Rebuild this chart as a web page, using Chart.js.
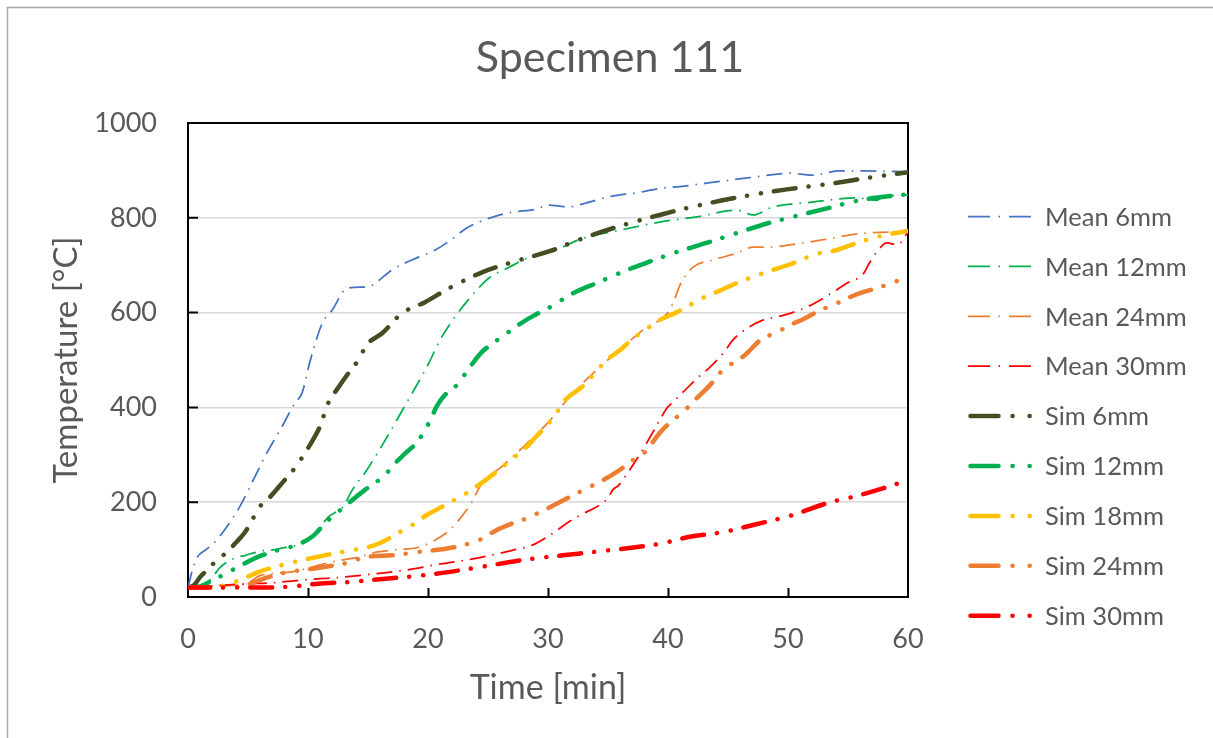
<!DOCTYPE html>
<html><head><meta charset="utf-8">
<script src="https://cdn.jsdelivr.net/npm/chart.js@4.4.0/dist/chart.umd.min.js"></script>
<style>html,body{margin:0;padding:0;background:#fff;overflow:hidden}canvas{display:block}</style>
</head><body>
<canvas id="c" width="1213" height="738"></canvas>
<script>
// ---- data (time in min, temperature in °C) ----
const chartTitle = 'Specimen 111';
const seriesNames = ['Mean 6mm','Mean 12mm','Mean 24mm','Mean 30mm','Sim 6mm','Sim 12mm','Sim 18mm','Sim 24mm','Sim 30mm'];
const xTicks = [0,10,20,30,40,50,60];
const yTicks = [0,200,400,600,800,1000];

const mean6Time = [0,0.4,0.8,1.5,2.2,3,4.3,5.5,6.7,7.8,8.9,9.5,10.2,11.2,12,13.3,15,15.6,17,19.2,20.6,22,23.2,25.2,27,29,30,31.6,33,35.2,37.7,39.3,41,43.2,46.6,50.2,52,54.3,58.5,60];
const mean6Temp = [20,60,85,100,115,140,190,250,310,358,409,430,500,578,605,652,654,662,690,717,732,755,778,800,812,818,827,823,830,845,854,862,866,873,884,894,890,899,898,897];

const mean12Time = [0,1,1.8,2.7,3.9,4.8,5.5,6.5,7.3,7.8,8.5,9.5,10.4,11.7,12.9,13.7,14.9,16.2,18,20,21,22.25,24.3,25.2,26.8,28,31,32.7,36,39.3,42.4,45.75,47.1,48.75,52,55.75,57.4,58,60];
const mean12Temp = [20,25,35,63,82,88,93,99,100,103,106,112,127,169,190,226,268,321,400,490,542,591,654,675,696,712,736,755,774,791,802,816,806,823,833,842,837,845,848];

const mean24Time = [0,2,4,5,6,8.7,10.3,12,14.2,15.8,17,19.2,20.3,21.8,23.2,23.75,24.3,25,26,28,30,32,34,36,38,40,40.5,41,42.1,43.75,45.7,47.1,48.25,50.75,53.25,55.75,58.5,60];
const mean24Temp = [20,22,25,30,45,53,63,74,84,95,99,105,116,141,183,204,232,253,272,318,368,428,478,522,565,600,625,658,696,711,725,738,738,745,755,766,770,770];

const mean30Time = [0,3,5,7,9.5,12,14.5,17,19.2,20.4,23.2,25.2,27.1,28.75,30.2,31.6,32.7,34.3,35,35.4,35.9,36.8,37.7,38.75,39.3,39.9,40.4,41.25,42.4,43.5,44.6,45.4,46.6,47.9,49.6,51.6,53.5,54.9,56.25,56.8,57.4,58.25,59.1,60];
const mean30Temp = [20,25,28,30,36,40,46,53,61,67,78,88,99,110,131,156,173,194,209,226,236,268,303,348,373,398,411,432,461,485,514,542,567,584,594,612,639,662,681,705,728,747,743,770];

const sim6Time = [0,0.5,1,1.6,2.3,3.25,4,4.7,5.2,5.9,6.8,8,8.9,10.4,11,11.7,12.5,13.3,14.2,14.9,16.2,17.8,19.75,21.8,24.6,27.1,30.2,32.5,35.4,39.3,42.7,46,49.9,53.25,57.1,60];
const sim6Temp = [20,25,42,57,75,95,115,135,155,188,210,245,272,331,360,410,441,470,500,532,557,598,622,652,686,707,730,753,778,806,827,844,860,871,886,896];

const sim12Time = [0,1,2,3.2,4.2,5.6,7.25,8.7,10.4,11.4,12.9,14.75,16.4,17.25,18.1,19.1,20.2,20.7,21.4,22.4,23.6,24.5,25.4,26.6,27.9,29,30.2,32.1,34.3,36.6,38.2,40.4,43.2,46,48.25,50.4,53.25,56,60];
const sim12Temp = [20,22,35,50,64,82,97,107,128,155,188,226,257,282,303,327,373,401,426,447,489,517,535,557,580,596,612,641,665,690,705,725,747,770,788,802,820,837,850];

const sim18Time = [0,2,3,3.7,4.75,5.8,7.9,9.2,10.3,12,13.7,15,16.2,17.5,18.7,19.9,21,23.2,24.6,25.7,27.1,28.2,29,29.9,30.75,31.3,33,33.75,34.9,36,37.1,38.1,39,40.75,42.9,44.3,45.7,48.25,50.2,52.4,53.75,56,58.1,60];
const sim18Temp = [20,20,24,30,40,52,68,76,82,91,99,105,116,135,152,173,188,219,243,264,293,316,338,362,390,412,447,468,500,521,546,563,580,601,631,646,662,686,702,724,730,749,764,772];

const sim24Time = [0,3,4.75,6.7,7.8,9.5,10.8,12.25,13.3,14.75,17,19.2,20.6,21.7,22.9,24.6,25.7,27.1,28.2,30.2,32.1,33.3,34.9,36.2,37.1,38.1,39.3,40.2,41.25,42.25,43.5,44.3,45.4,46.4,47.7,49.1,50.2,51.25,52.7,54.1,55.2,56.25,57.7,59.6,60];
const sim24Temp = [20,20,25,42,50,57,61,67,72,84,88,95,99,103,109,124,141,156,166,190,215,230,251,272,289,306,346,369,390,416,447,472,494,510,542,559,574,586,605,620,633,643,654,672,677];

const sim30Time = [0,2,5,8,10.8,13.7,15.3,20.4,24.3,27.9,32.7,36.6,39.3,41.8,44.6,47.1,50.4,53.25,56,58.5,60];
const sim30Temp = [20,20,20,21,28,32,36,48,63,78,92,103,112,127,137,152,173,198,215,234,247];

// ---- styles ----
const seriesColors = ['#4472C4','#00B050','#ED7D31','#FF0000','#434F22','#00B050','#FFC000','#ED7D31','#FF0000'];
const times = [mean6Time,mean12Time,mean24Time,mean30Time,sim6Time,sim12Time,sim18Time,sim24Time,sim30Time];
const temps = [mean6Temp,mean12Temp,mean24Temp,mean30Temp,sim6Temp,sim12Temp,sim18Temp,sim24Temp,sim30Temp];

const TEXT = '#595959';
const FONT = 'Lato';

const datasets = seriesNames.map((name, i) => {
  const isSim = name.startsWith('Sim');
  return {
    label: name,
    data: times[i].map((t, k) => ({x: t, y: temps[i][k]})),
    borderColor: seriesColors[i],
    backgroundColor: seriesColors[i],
    borderWidth: isSim ? 4.5 : 1.75,
    borderDash: isSim ? [22, 13, 0.1, 14, 0.1, 13] : [16, 7, 1.5, 7],
    borderCapStyle: isSim ? 'round' : 'butt',
    borderJoinStyle: 'round',
    pointRadius: 0,
    pointHoverRadius: 0,
    fill: false,
    cubicInterpolationMode: 'monotone',
    order: seriesNames.length - 1 - i
  };
});

const decorPlugin = {
  id: 'decor',
  beforeDraw(chart) {
    const ctx = chart.ctx;
    ctx.save();
    ctx.fillStyle = '#fff';
    ctx.fillRect(0, 0, chart.width, chart.height);
    ctx.strokeStyle = '#a6a6a6';
    ctx.lineWidth = 1.5;
    ctx.strokeRect(7.5, 7.5, 1400, 1000);
    ctx.fillStyle = TEXT;
    ctx.font = '43px ' + FONT;
    ctx.textAlign = 'center';
    ctx.textBaseline = 'alphabetic';
    ctx.fillText(chartTitle, 610, 72);
    ctx.restore();
  },
  beforeDatasetsDraw(chart) {
    const {ctx, chartArea: a, scales: {x, y}} = chart;
    ctx.save();
    ctx.strokeStyle = '#000';
    ctx.lineWidth = 2;
    ctx.beginPath();
    xTicks.forEach(v => {
      if (v <= x.min || v >= x.max) return;
      const px = Math.round(x.getPixelForValue(v)) + 0.5;
      ctx.moveTo(px, a.bottom); ctx.lineTo(px, a.bottom - 9);
    });
    yTicks.forEach(v => {
      if (v <= y.min || v >= y.max) return;
      const py = y.getPixelForValue(v);
      ctx.moveTo(a.left, py); ctx.lineTo(a.left + 10, py);
    });
    ctx.stroke();
    ctx.strokeRect(a.left, a.top, a.right - a.left, a.bottom - a.top);
    ctx.restore();
  },
  afterDraw(chart) {
    const ctx = chart.ctx;
    ctx.save();
    chart.data.datasets.forEach((ds, i) => {
      const yy = 216.5 + i * 49.9;
      const isSim = ds.label.startsWith('Sim');
      ctx.strokeStyle = ds.borderColor;
      ctx.lineWidth = ds.borderWidth;
      ctx.lineCap = isSim ? 'round' : 'butt';
      ctx.setLineDash(isSim ? [28, 14, 0.1, 17, 0.1, 100] : [22, 8.5, 1.5, 9, 40]);
      ctx.beginPath();
      if (isSim) { ctx.moveTo(970.5, yy); ctx.lineTo(1030, yy); }
      else { ctx.moveTo(968, yy); ctx.lineTo(1031, yy); }
      ctx.stroke();
      ctx.setLineDash([]);
      ctx.fillStyle = TEXT;
      ctx.font = '25.5px ' + FONT;
      ctx.textAlign = 'left';
      ctx.textBaseline = 'middle';
      ctx.fillText(ds.label, 1045, yy + 1);
    });
    ctx.restore();
  }
};

new Chart(document.getElementById('c'), {
  type: 'line',
  data: { datasets },
  plugins: [decorPlugin],
  options: {
    responsive: false,
    animation: false,
    events: [],
    layout: { padding: { left: 30, top: 123, right: 305, bottom: 30 } },
    plugins: { legend: { display: false }, title: { display: false }, tooltip: { enabled: false } },
    scales: {
      x: {
        type: 'linear', min: 0, max: 60,
        afterBuildTicks(s) { s.ticks = xTicks.map(v => ({value: v})); },
        afterFit(s) { s.height = 111; },
        ticks: { padding: 26, color: TEXT, font: { family: FONT, size: 27 }, maxRotation: 0, callback: v => String(v) },
        grid: { display: false, drawTicks: false, tickLength: 0 },
        border: { display: false },
        title: { display: true, text: 'Time [min]', color: TEXT, font: { family: FONT, size: 34 }, padding: 0 }
      },
      y: {
        type: 'linear', min: 0, max: 1000,
        afterBuildTicks(s) { s.ticks = yTicks.map(v => ({value: v})); },
        afterFit(s) { s.width = 158; },
        ticks: { padding: 31, color: TEXT, font: { family: FONT, size: 27 }, callback: v => String(v) },
        grid: { color: '#d9d9d9', lineWidth: 1.5, drawTicks: false, tickLength: 0 },
        border: { display: false },
        title: { display: true, text: 'Temperature [°C]', color: TEXT, font: { family: FONT, size: 33 }, padding: { top: 17, bottom: 0 } }
      }
    }
  }
});
</script>
</body></html>
